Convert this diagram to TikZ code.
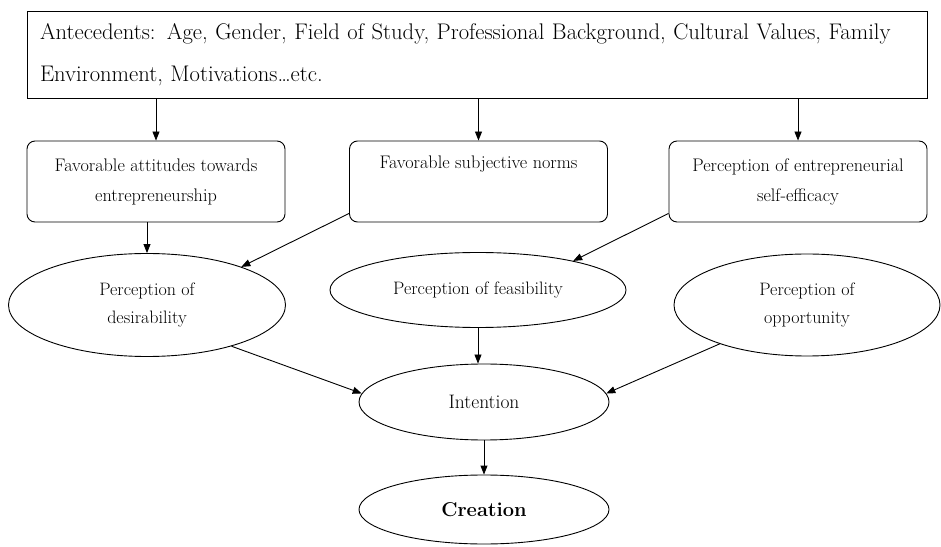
\documentclass[tikz,border=0pt]{standalone}
\usepackage{tikz}
\usetikzlibrary{arrows.meta,calc,shapes.geometric}

\begin{document}
\begin{tikzpicture}[x=1pt, y=1pt,
    box/.style={draw, line width=0.9pt, minimum width=900pt, minimum height=87pt, text width=874pt, align=left, inner sep=0pt, font=\fontsize{22.6}{42}\selectfont},
    stage/.style={draw, line width=0.9pt, rounded corners=8pt, minimum width=258pt, minimum height=81pt, align=center, font=\fontsize{18.2}{30}\selectfont},
    ell/.style={draw, ellipse, line width=0.9pt, inner sep=0pt, align=center, font=\fontsize{18}{28}\selectfont},
    arr/.style={-{Triangle[length=9pt,width=7pt]}, line width=0.9pt}
  ]
    \useasboundingbox (0,0) rectangle (941,546);
    \node[box] (ante) at (477,491.5) {Antecedents: Age, Gender, Field of Study, Professional Background, Cultural Values, Family\\Environment, Motivations\ldots etc.};
    \node[stage] (attit) at (156,364.5) {Favorable attitudes towards\\entrepreneurship};
    \node[stage] (norms) at (478.5,364.5) {Favorable subjective norms\\\strut};
    \node[stage] (effic) at (798,364.5) {Perception of entrepreneurial\\self-efficacy};
    \node[ell, minimum width=277pt, minimum height=103pt] (desir) at (147,241) {Perception of\\desirability};
    \node[ell, minimum width=296pt, minimum height=75pt] (feasi) at (478,256) {Perception of feasibility};
    \node[ell, minimum width=266pt, minimum height=102pt] (oppor) at (807,241) {Perception of\\opportunity};
    \node[ell, minimum width=250pt, minimum height=76pt, font=\fontsize{19.5}{28}\selectfont] (inten) at (484,144) {Intention};
    \node[ell, minimum width=250pt, minimum height=69pt, font=\fontsize{20}{28}\selectfont\bfseries] (creat) at (484,36.5) {Creation};
    \draw[arr] (ante.south -| attit.north) -- (attit.north);
    \draw[arr] (ante.south -| norms.north) -- (norms.north);
    \draw[arr] (ante.south -| effic.north) -- (effic.north);
    \draw[arr] (attit.south -| desir.north) -- (desir.north);
    \draw[arr] ($(norms.south west)+(0,9)$) -- (desir.22);
    \draw[arr] ($(effic.south west)+(0,9)$) -- (feasi.17);
    \draw[arr] (desir.-26) -- (inten.176);
    \draw[arr] (oppor.204) -- (inten.4);
    \draw[arr] (feasi.south) -- (feasi.south |- inten.north);
    \draw[arr] (inten.south) -- (creat.north);
\end{tikzpicture}
\end{document}
